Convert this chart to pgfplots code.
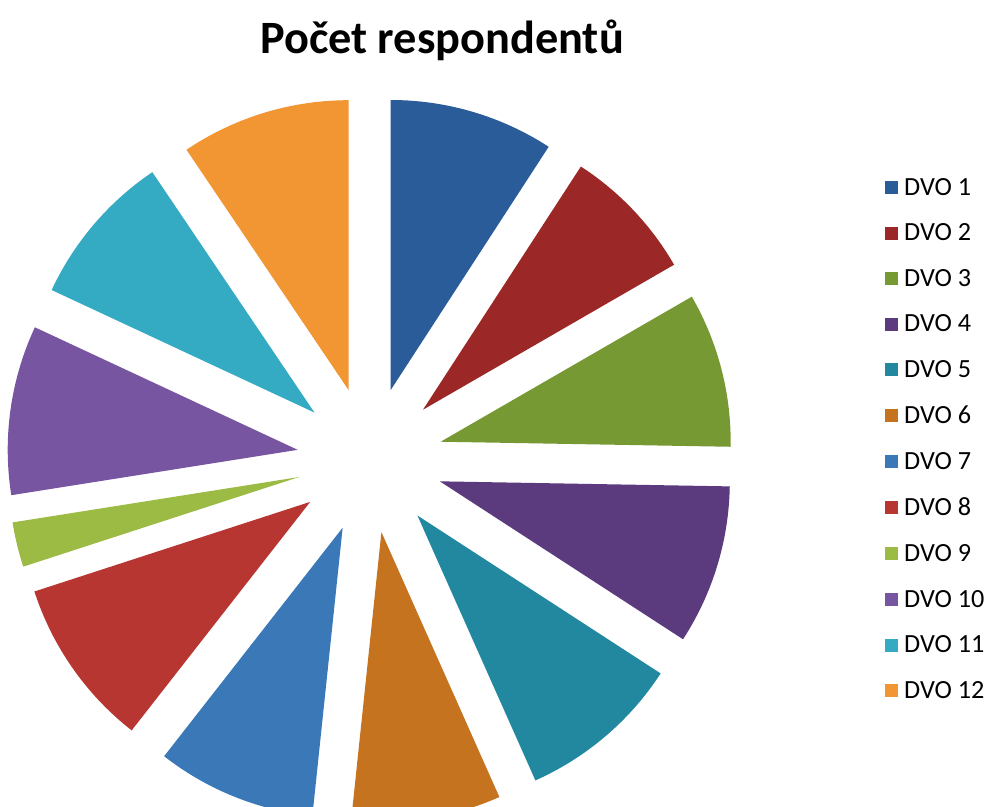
\documentclass[border=0pt]{standalone}
\usepackage{pgfplots}
\usepackage{pgfplotstable}
\pgfplotsset{compat=1.18}
\usepackage{fontspec}
\setmainfont{Carlito}

\definecolor{pie0}{HTML}{2A5C9A}
\definecolor{pie1}{HTML}{9C2727}
\definecolor{pie2}{HTML}{779933}
\definecolor{pie3}{HTML}{5B3A7E}
\definecolor{pie4}{HTML}{21889F}
\definecolor{pie5}{HTML}{C5731F}
\definecolor{pie6}{HTML}{3A78B8}
\definecolor{pie7}{HTML}{B83632}
\definecolor{pie8}{HTML}{9BBB45}
\definecolor{pie9}{HTML}{7755A0}
\definecolor{pie10}{HTML}{34AAC3}
\definecolor{pie11}{HTML}{F29533}

% number of respondents per DVO
\pgfplotstableread{
dvo count
1 33
2 27
3 31
4 32
5 33
6 30
7 32
8 34
9 9
10 34
11 31
12 34
}\pietable

\begin{document}
\begin{tikzpicture}
% total and slice geometry (clockwise from 12 o'clock, exploded outwards)
\def\pietotal{0}
\pgfplotsforeachungrouped \i in {0,...,11}{%
  \pgfplotstablegetelem{\i}{count}\of\pietable
  \pgfmathsetmacro\pietotal{\pietotal+\pgfplotsretval}%
}
\def\pieacc{0}
\pgfplotsforeachungrouped \i in {0,...,11}{%
  \pgfplotstablegetelem{\i}{count}\of\pietable
  \let\pieval\pgfplotsretval
  \pgfmathsetmacro\pieA{90-\pieacc/\pietotal*360}%
  \pgfmathsetmacro\pieacc{\pieacc+\pieval}%
  \pgfmathsetmacro\pieB{90-\pieacc/\pietotal*360}%
  \pgfmathsetmacro\pieM{(\pieA+\pieB)/2}%
  \pgfmathsetmacro\pieX{370+73*cos(\pieM)}%
  \pgfmathsetmacro\pieY{347+73*sin(\pieM)}%
  \expandafter\xdef\csname pieS\i\endcsname{\pieA}%
  \expandafter\xdef\csname pieE\i\endcsname{\pieB}%
  \expandafter\xdef\csname pieX\i\endcsname{\pieX}%
  \expandafter\xdef\csname pieY\i\endcsname{\pieY}%
}
\begin{axis}[
  hide axis, scale only axis,
  x=1bp, y=1bp,
  xmin=0, xmax=991, ymin=0, ymax=807,
  clip=true,
  legend image code/.code={\fill[#1] (0bp,-6.5bp) rectangle (13bp,6.5bp);},
  legend cell align=left,
  legend style={
    at={(axis cs:882,634)}, anchor=north west,
    draw=none, fill=none,
    font=\fontsize{26.3}{31}\selectfont,
    row sep=21.1bp,
    nodes={inner sep=3bp},
    /tikz/every odd column/.append style={column sep=3bp},
  },
]
\path (axis cs:0,0) rectangle (axis cs:991,807);
\pgfplotsforeachungrouped \i in {0,...,11}{%
  \edef\next{\noexpand\addplot[fill=pie\i, draw=none, forget plot,
      domain=\csname pieE\i\endcsname:\csname pieS\i\endcsname,
      samples=80, variable=\noexpand\t]
    ({\csname pieX\i\endcsname+290*cos(\noexpand\t)},
     {\csname pieY\i\endcsname+290*sin(\noexpand\t)})
    -- (axis cs:\csname pieX\i\endcsname,\csname pieY\i\endcsname) -- cycle;}%
  \next
}
\pgfplotsforeachungrouped \i in {0,...,11}{%
  \pgfplotstablegetelem{\i}{dvo}\of\pietable
  \edef\next{\noexpand\addlegendimage{fill=pie\i, draw=none}%
    \noexpand\addlegendentry{DVO \pgfplotsretval}}%
  \next
}
\node[font=\bfseries\fontsize{46.5}{54}\selectfont] at (axis cs:442,767) {Počet respondentů};
\end{axis}
\end{tikzpicture}
\end{document}
